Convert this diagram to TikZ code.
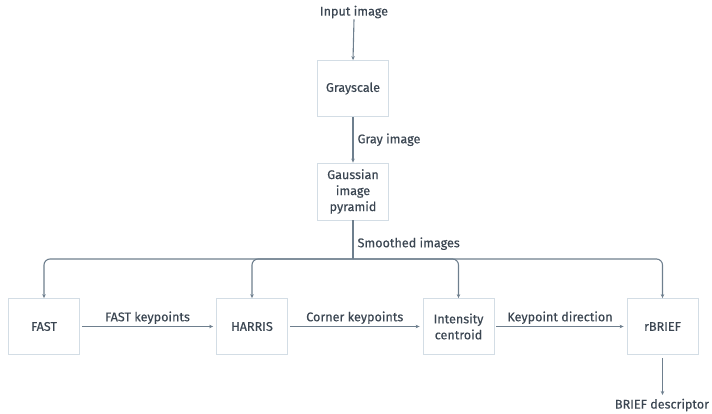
\documentclass[tikz,border=0pt]{standalone}
\usepackage{fontspec}
\setmainfont{Fira Sans}[FakeBold=0.35]
\usetikzlibrary{arrows.meta}
\definecolor{boxline}{HTML}{D3DDE5}
\definecolor{arrowcol}{HTML}{6E7F8E}
\definecolor{txt}{HTML}{3B4652}
\begin{document}
\begin{tikzpicture}[x=1pt,y=-1pt,
  box/.style={draw=boxline,line width=0.8pt,minimum width=71pt,minimum height=56pt,inner sep=0pt,text=txt,font=\fontsize{12.6}{16}\selectfont,align=center},
  lbl/.style={text=txt,font=\fontsize{12.6}{14}\selectfont,inner sep=1pt},
  conn/.style={draw=arrowcol,line width=1.1pt,-{Stealth[length=4pt,width=3.5pt]}},
  bconn/.style={conn,rounded corners=6pt}]
\useasboundingbox (0,0) rectangle (712,413);
\node[lbl] (in) at (354,12) {Input image};
\node[box] (gray) at (353,88.5) {Grayscale};
\node[box,minimum height=57pt] (gauss) at (353,191.5) {Gaussian\\image\\pyramid};
\node[box] (fast) at (44,326.5) {FAST};
\node[box] (harris) at (252,326.5) {HARRIS};
\node[box] (cent) at (458.5,326.5) {Intensity\\centroid};
\node[box] (rbrief) at (662.5,326.5) {rBRIEF};
\node[lbl] (out) at (662,405) {BRIEF descriptor};
\coordinate (split) at (353,259);
\coordinate (outtop) at (662.5,395);
\draw[conn] (in.south) -- (gray.north);
\draw[conn] (gray.south) -- node[lbl,right,xshift=3pt] {Gray image} (gauss.north);
\draw[draw=arrowcol,line width=1.1pt] (gauss.south) -- node[lbl,right,xshift=3pt,yshift=-4pt] {Smoothed images} (split);
\draw[bconn] (split) -| (fast.north);
\draw[bconn] (split) -| (harris.north);
\draw[bconn] (split) -| (cent.north);
\draw[bconn] (split) -| (rbrief.north);
\draw[conn] ([xshift=2pt]fast.east) -- node[lbl,above,yshift=1pt] {FAST keypoints} ([xshift=-3pt]harris.west);
\draw[conn] ([xshift=2pt]harris.east) -- node[lbl,above,yshift=1pt] {Corner keypoints} ([xshift=-3pt]cent.west);
\draw[conn] ([xshift=2pt]cent.east) -- node[lbl,above,yshift=1pt] {Keypoint direction} ([xshift=-3pt]rbrief.west);
\draw[conn] ([yshift=-3pt]rbrief.south) -- (outtop);
\end{tikzpicture}
\end{document}
